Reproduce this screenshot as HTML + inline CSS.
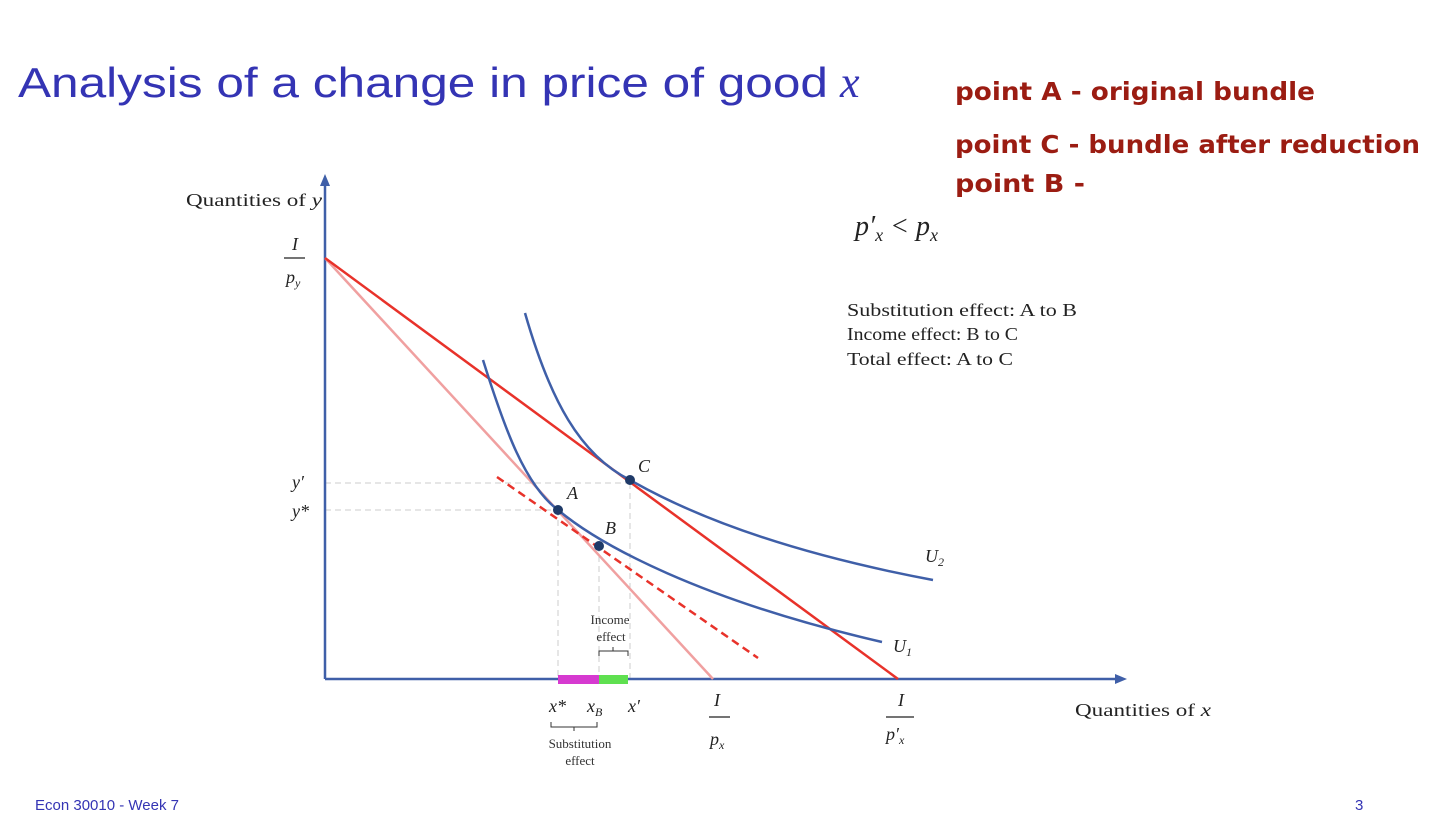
<!DOCTYPE html>
<html><head><meta charset="utf-8"><style>
body{margin:0;width:1452px;height:814px;background:#fff;overflow:hidden;position:relative;font-family:"Liberation Sans",sans-serif}
.t{position:absolute;white-space:nowrap}
</style></head><body>
<div class="t" style="left:35px;top:797px;font-size:15px;color:#3434b4">Econ 30010 - Week 7</div>
<div class="t" style="left:1355px;top:797px;font-size:15px;color:#3434b4">3</div>
<svg width="1452" height="814" style="position:absolute;left:0;top:0" font-family="Liberation Serif,serif">
<text x="18" y="97" font-family="Liberation Sans,sans-serif" font-size="42" fill="#3434b4" textLength="810" lengthAdjust="spacingAndGlyphs">Analysis of a change in price of good</text>
<text x="840" y="97" font-size="44" font-style="italic" fill="#3434b4">x</text>
<g font-family="DejaVu Sans,sans-serif" font-weight="bold" font-size="25" fill="#9b1c12" lengthAdjust="spacingAndGlyphs">
<text x="955" y="100" textLength="360" lengthAdjust="spacingAndGlyphs">point  A - original bundle</text>
<text x="955" y="153" textLength="465" lengthAdjust="spacingAndGlyphs">point  C - bundle after reduction</text>
<text x="955" y="192" textLength="130" lengthAdjust="spacingAndGlyphs">point B -</text>
</g>
<g stroke="#ccc" stroke-dasharray="6,4" stroke-width="1">
<line x1="325" y1="483" x2="630" y2="483"/><line x1="325" y1="510" x2="558" y2="510"/>
<line x1="558" y1="510" x2="558" y2="679"/><line x1="599" y1="546" x2="599" y2="679"/><line x1="630" y1="483" x2="630" y2="679"/>
</g>
<line x1="325" y1="679" x2="1120" y2="679" stroke="#3f5fa8" stroke-width="2.5"/>
<line x1="325" y1="679" x2="325" y2="182" stroke="#3f5fa8" stroke-width="2.5"/>
<polygon points="325,174 320,186 330,186" fill="#3f5fa8"/>
<polygon points="1127,679 1115,674 1115,684" fill="#3f5fa8"/>
<rect x="558" y="675" width="41" height="9" fill="#d63ad0"/>
<rect x="599" y="675" width="29" height="9" fill="#5fe050"/>
<line x1="325" y1="258" x2="713" y2="679" stroke="#f0a0a0" stroke-width="2.5"/>
<line x1="325" y1="258" x2="898" y2="679" stroke="#e8322a" stroke-width="2.5"/>
<line x1="497" y1="477" x2="758" y2="658" stroke="#e8322a" stroke-width="2.5" stroke-dasharray="8,5"/>
<path d="M483,360 C505,430 525,485 558,510 C600,545 700,600 882,642" fill="none" stroke="#3f5fa8" stroke-width="2.5"/>
<path d="M525,313 C550,400 580,455 630,480 C700,520 800,555 933,580" fill="none" stroke="#3f5fa8" stroke-width="2.5"/>
<circle cx="558" cy="510" r="5" fill="#1f3a68"/><circle cx="599" cy="546" r="5" fill="#1f3a68"/><circle cx="630" cy="480" r="5" fill="#1f3a68"/>
<g font-style="italic" font-size="18" fill="#222">
<text x="567" y="499">A</text><text x="605" y="534">B</text><text x="638" y="472">C</text>
<text x="925" y="562">U<tspan font-size="12" dy="4">2</tspan></text>
<text x="893" y="652">U<tspan font-size="12" dy="4">1</tspan></text>
<text x="292" y="488">y′</text><text x="292" y="517">y*</text>
<text x="292" y="250">I</text><text x="286" y="283">p<tspan font-size="12" dy="4">y</tspan></text>
<text x="549" y="712">x*</text><text x="587" y="712">x<tspan font-size="12" dy="4">B</tspan></text><text x="628" y="712">x′</text>
<text x="714" y="706">I</text><text x="710" y="745">p<tspan font-size="12" dy="4">x</tspan></text>
<text x="898" y="706">I</text><text x="886" y="740">p′<tspan font-size="12" dy="4">x</tspan></text>
<text x="855" y="235" font-size="28">p′<tspan font-size="18" dy="6">x</tspan><tspan dy="-6"> &lt; p</tspan><tspan font-size="18" dy="6">x</tspan></text>
</g>
<g stroke="#222" stroke-width="1.2"><line x1="284" y1="258" x2="305" y2="258"/><line x1="709" y1="717" x2="730" y2="717"/><line x1="886" y1="717" x2="914" y2="717"/></g>
<path d="M551,722 v5 h46 v-5 M574,727 v4" fill="none" stroke="#333"/>
<path d="M599,656 v-5 h29 v5 M613,651 v-4" fill="none" stroke="#333"/>
<g fill="#222" font-size="18" lengthAdjust="spacingAndGlyphs">
<text x="186" y="206" textLength="136" lengthAdjust="spacingAndGlyphs">Quantities of <tspan font-style="italic">y</tspan></text>
<text x="1075" y="716" textLength="136" lengthAdjust="spacingAndGlyphs">Quantities of <tspan font-style="italic">x</tspan></text>
<text x="847" y="316" textLength="230" lengthAdjust="spacingAndGlyphs">Substitution effect: A to B</text>
<text x="847" y="340" textLength="171" lengthAdjust="spacingAndGlyphs">Income effect: B to C</text>
<text x="847" y="365" textLength="166" lengthAdjust="spacingAndGlyphs">Total effect: A to C</text>
</g>
<g fill="#333" font-size="13" text-anchor="middle">
<text x="610" y="624">Income</text><text x="611" y="641">effect</text>
<text x="580" y="748">Substitution</text><text x="580" y="765">effect</text>
</g>
</svg>
</body></html>
